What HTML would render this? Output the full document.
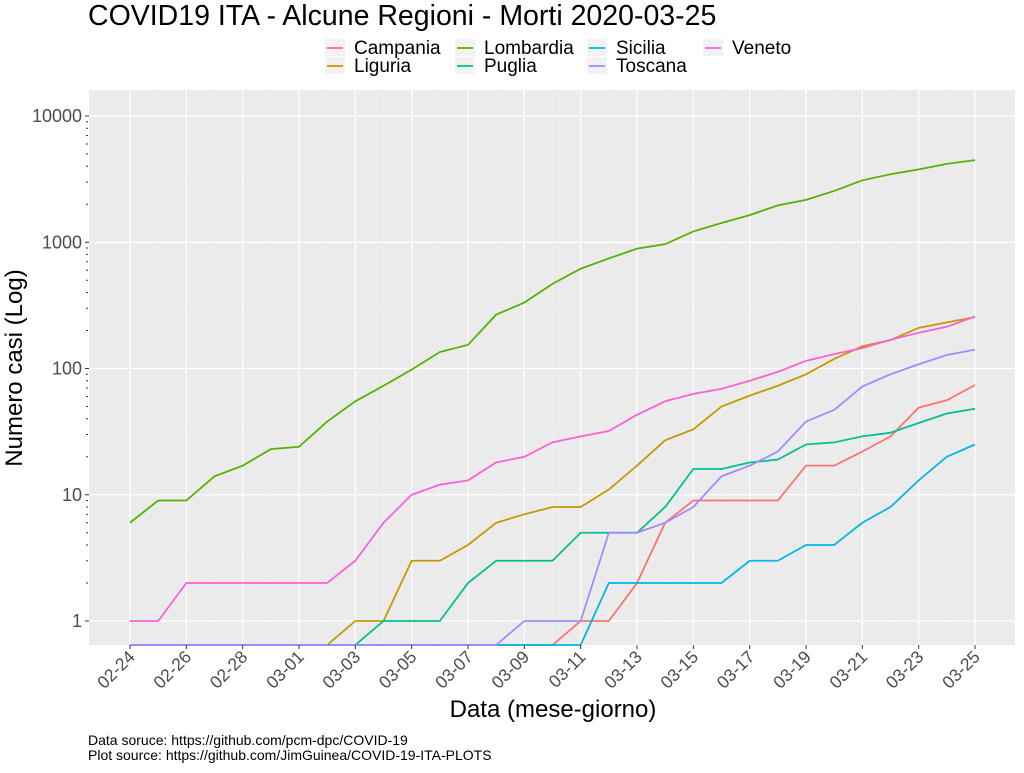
<!DOCTYPE html>
<html><head><meta charset="utf-8"><style>
body{margin:0;background:#fff;font-family:"Liberation Sans",sans-serif}
</style></head><body>
<svg id="chart" width="1024" height="768" xmlns="http://www.w3.org/2000/svg" font-family="Liberation Sans, sans-serif">
<text x="88" y="25" font-size="28.5" fill="#000">COVID19 ITA - Alcune Regioni - Morti 2020-03-25</text>
<rect x="89" y="90" width="926" height="555" fill="#EBEBEB"/>
<g id="grid"></g><g id="lines"></g><g id="axes"></g><g id="legend"></g>
<text x="553" y="717" font-size="24" text-anchor="middle">Data (mese-giorno)</text>
<text transform="translate(22,368) rotate(-90)" font-size="24" text-anchor="middle">Numero casi (Log)</text>
<text x="88" y="745" font-size="14">Data soruce: https://github.com/pcm-dpc/COVID-19</text>
<text x="88" y="760" font-size="14">Plot source: https://github.com/JimGuinea/COVID-19-ITA-PLOTS</text>
</svg>
<script>
const dates=["02-24","02-25","02-26","02-27","02-28","02-29","03-01","03-02","03-03","03-04","03-05","03-06","03-07","03-08","03-09","03-10","03-11","03-12","03-13","03-14","03-15","03-16","03-17","03-18","03-19","03-20","03-21","03-22","03-23","03-24","03-25"];
const regions=["Campania","Liguria","Lombardia","Puglia","Sicilia","Toscana","Veneto"];
const colors=["#F8766D","#C49A00","#53B400","#00C094","#00B6EB","#A58AFF","#FB61D7"];
const campania=[0,0,0,0,0,0,0,0,0,0,0,0,0,0,0,0,1,1,2,6,9,9,9,9,17,17,22,29,49,56,74];
const liguria=[0,0,0,0,0,0,0,0,1,1,3,3,4,6,7,8,8,11,17,27,33,50,61,73,90,119,150,168,210,232,255];
const lombardia=[6,9,9,14,17,23,24,38,55,73,98,135,154,267,333,468,617,744,890,966,1218,1420,1640,1959,2168,2549,3095,3456,3776,4178,4474];
const puglia=[0,0,0,0,0,0,0,0,0,1,1,1,2,3,3,3,5,5,5,8,16,16,18,19,25,26,29,31,37,44,48];
const sicilia=[0,0,0,0,0,0,0,0,0,0,0,0,0,0,0,0,0,2,2,2,2,2,3,3,4,4,6,8,13,20,25];
const toscana=[0,0,0,0,0,0,0,0,0,0,0,0,0,0,1,1,1,5,5,6,8,14,17,22,38,47,72,90,108,128,141];
const veneto=[1,1,2,2,2,2,2,2,3,6,10,12,13,18,20,26,29,32,43,55,63,69,80,94,115,130,145,169,192,214,258];
const series=[campania,liguria,lombardia,puglia,sicilia,toscana,veneto];
const yTicks=[1,10,100,1000,10000];
const NS="http://www.w3.org/2000/svg";
const X0=89,X1=1015,Y0=90,Y1=645;
const x=i=>130+i*(975-130)/(dates.length-1);
const y=v=>v<=0?Y1:621-Math.log10(v)*126.25;
function mk(tag,attrs,parent){const e=document.createElementNS(NS,tag);for(const k in attrs)e.setAttribute(k,attrs[k]);parent.appendChild(e);return e;}
const grid=document.getElementById('grid'),axes=document.getElementById('axes'),lines=document.getElementById('lines'),legend=document.getElementById('legend');
for(let d=0;d<yTicks.length-1;d++){const e=mk('line',{x1:X0,x2:X1,y1:y(yTicks[d]*Math.sqrt(10)),y2:y(yTicks[d]*Math.sqrt(10)),stroke:'#F5F5F5','stroke-width':0.6},grid);

}
dates.forEach((d,i)=>{const e=mk('line',{x1:x(i),x2:x(i),y1:Y0,y2:Y1,stroke:i%2?'#F5F5F5':'#fff','stroke-width':i%2?0.6:1.2},grid);


if(i%2===0){const t=mk('line',{x1:x(i),x2:x(i),y1:Y1,y2:Y1+4,stroke:'#333'},axes);


const l=mk('text',{x:0,y:0,'font-size':17.5,fill:'#4D4D4D','text-anchor':'end',transform:`translate(${x(i)+6},${Y1+13}) rotate(-45)`},axes);l.textContent=d;

}});
yTicks.forEach(v=>{const e=mk('line',{x1:X0,x2:X1,y1:y(v),y2:y(v),stroke:'#fff','stroke-width':1.2},grid);


const t=mk('line',{x1:X0-4,x2:X0,y1:y(v),y2:y(v),stroke:'#333'},axes);


const l=mk('text',{x:X0-7,y:y(v)+6,'font-size':18,fill:'#4D4D4D','text-anchor':'end'},axes);l.textContent=v;


for(let k=2;k<10&&v<10000;k++){const m=mk('line',{x1:X0-3,x2:X0-1,y1:y(v*k),y2:y(v*k),stroke:'#333','stroke-width':1},axes);

}});
series.forEach((s,j)=>{const p=mk('polyline',{points:s.map((v,i)=>x(i)+','+y(v)).join(' '),fill:'none',stroke:colors[j],'stroke-width':1.8},lines);

});
const lx=[327,457,589,705],ly=[48,66];
regions.forEach((r,j)=>{const c=Math.floor(j/2),rw=j%2;const g=mk('g',{},legend);


mk('rect',{x:lx[c]-2,y:ly[rw]-9,width:20,height:17,fill:'#F2F2F2'},g);
mk('line',{x1:lx[c],x2:lx[c]+16,y1:ly[rw],y2:ly[rw],stroke:colors[j],'stroke-width':1.8},g);
const t=mk('text',{x:lx[c]+27,y:ly[rw]+6,'font-size':19},g);t.textContent=r;});
</script>
</body></html>
